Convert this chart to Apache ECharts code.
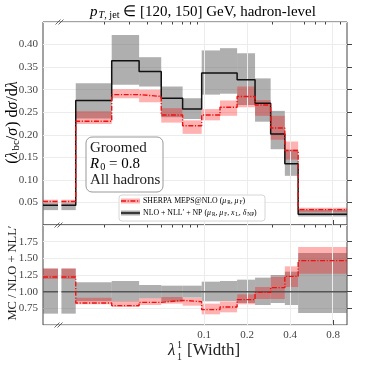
<!DOCTYPE html>
<html>
<head>
<meta charset="utf-8">
<script src="https://cdn.jsdelivr.net/npm/echarts@6/dist/echarts.min.js"></script>
<style>
    html, body { margin: 0; padding: 0; background: #fff; }
    #chart { width: 366px; height: 366px; }
</style>
</head>
<body>
<div id="chart"></div>
<script>
// bin edges in lambda_1^1 (first bin starts at 0, drawn on a broken axis)
var binEdges = [0, 0.0126, 0.0225, 0.035, 0.050, 0.0706, 0.096, 0.129, 0.170, 0.227, 0.292, 0.367, 0.455, 1.0];

// top panel: NLO + NLL' + NP
var nllCentral = [0.044, 0.276, 0.364, 0.340, 0.281, 0.257, 0.337, 0.337, 0.322, 0.270, 0.202, 0.136, 0.024];
var nllLow     = [0.033, 0.236, 0.311, 0.307, 0.239, 0.235, 0.289, 0.291, 0.266, 0.229, 0.168, 0.109, 0.019];
var nllHigh    = [0.049, 0.314, 0.421, 0.372, 0.307, 0.281, 0.387, 0.392, 0.381, 0.325, 0.253, 0.167, 0.034];
// top panel: SHERPA MEPS@NLO
var mcCentral  = [0.052, 0.230, 0.289, 0.285, 0.244, 0.220, 0.244, 0.261, 0.285, 0.266, 0.215, 0.165, 0.034];
var mcLow      = [0.049, 0.224, 0.281, 0.272, 0.227, 0.202, 0.232, 0.242, 0.261, 0.242, 0.189, 0.145, 0.028];
var mcHigh     = [0.056, 0.252, 0.301, 0.300, 0.259, 0.232, 0.257, 0.276, 0.307, 0.277, 0.242, 0.185, 0.038];

// ratio panel
var ratioNll     = [1, 1, 1, 1, 1, 1, 1, 1, 1, 1, 1, 1, 1];
var ratioNllLow  = [0.67, 0.855, 0.855, 0.90, 0.85, 0.91, 0.855, 0.86, 0.83, 0.80, 0.83, 0.80, 0.68];
var ratioNllHigh = [1.345, 1.14, 1.16, 1.10, 1.09, 1.09, 1.15, 1.16, 1.18, 1.21, 1.25, 1.30, 1.58];
var ratioMc      = [1.22, 0.83, 0.79, 0.84, 0.87, 0.85, 0.73, 0.77, 0.88, 0.99, 1.06, 1.23, 1.465];
var ratioMcLow   = [1.19, 0.81, 0.77, 0.80, 0.82, 0.79, 0.66, 0.69, 0.81, 0.89, 0.89, 1.07, 1.27];
var ratioMcHigh  = [1.35, 0.91, 0.86, 0.90, 0.92, 0.905, 0.82, 0.855, 0.96, 1.07, 1.22, 1.38, 1.67];

// x ticks
var majorTicks = [0.1, 0.2, 0.4, 0.8];
var majorLabels = ['0.1', '0.2', '0.4', '0.8'];
var minorTicks = [0.02, 0.03, 0.04, 0.05, 0.06, 0.07, 0.08, 0.09, 0.3, 0.5, 0.6, 0.7, 0.9];

// axis runs in log10(lambda); the [0, 0.01] piece is squeezed in on the left
var X_MIN = -2.129, LIN_W = 0.105, LOG_START = 0.01;

var SERIF = 'Liberation Serif';
var GRAY_BAND = 'rgba(110,110,110,0.55)';
var RED_BAND = 'rgba(255,0,0,0.3)';
var RED = '#ee1111';
var DASHDOT = [5, 1.6, 1.2, 1.6];

function lg(v) { return Math.log10(v); }

// x pieces of bin i in axis units
function binPieces(i) {
    if (i === 0) {
        return [[X_MIN, X_MIN + LIN_W], [lg(LOG_START), lg(binEdges[1])]];
    }
    return [[lg(binEdges[i]), lg(binEdges[i + 1])]];
}

function bandRows(lo, hi) {
    var rows = [];
    for (var i = 0; i < lo.length; i++) {
        binPieces(i).forEach(function (p) { rows.push([p[0], p[1], lo[i], hi[i]]); });
    }
    return rows;
}

// step line: [linear piece, log piece]
function stepLines(vals) {
    var lin = [[X_MIN, vals[0]], [X_MIN + LIN_W, vals[0]]];
    var log = [[lg(LOG_START), vals[0]]];
    for (var i = 0; i < vals.length; i++) {
        var x1 = lg(binEdges[i + 1]);
        log.push([x1, vals[i]]);
        if (i + 1 < vals.length) log.push([x1, vals[i + 1]]);
    }
    return [lin, log];
}

function bandSeries(lo, hi, color, gi, z) {
    return {
        type: 'custom',
        xAxisIndex: gi * 2, yAxisIndex: gi,
        z: z, silent: true, animation: false,
        data: bandRows(lo, hi),
        encode: { x: [0, 1], y: [2, 3] },
        renderItem: function (params, api) {
            var a = api.coord([api.value(0), api.value(3)]);
            var b = api.coord([api.value(1), api.value(2)]);
            return {
                type: 'rect',
                shape: { x: a[0], y: a[1], width: b[0] - a[0], height: b[1] - a[1] },
                style: { fill: color }
            };
        }
    };
}

function lineSeries(vals, color, width, dash, gi, z) {
    return stepLines(vals).map(function (pts) {
        return {
            type: 'line',
            xAxisIndex: gi * 2, yAxisIndex: gi,
            data: pts, symbol: 'none', z: z, silent: true, animation: false,
            lineStyle: { color: color, width: width, type: dash || 'solid' }
        };
    });
}

function gridLineSeries(gi) {
    return {
        type: 'line', xAxisIndex: gi * 2, yAxisIndex: gi, data: [], z: 1, silent: true,
        markLine: {
            silent: true, symbol: 'none', animation: false,
            label: { show: false },
            lineStyle: { color: '#ececec', width: 1, type: 'solid' },
            data: majorTicks.map(function (v) { return { xAxis: lg(v) }; })
        }
    };
}

function xAxes(gi, withLabels) {
    var base = {
        type: 'value', gridIndex: gi, min: X_MIN, max: 0,
        axisLine: { show: false }, splitLine: { show: false }
    };
    var major = Object.assign({}, base, {
        axisTick: { show: true, inside: true, length: 5, lineStyle: { color: '#444' },
            customValues: majorTicks.map(lg) },
        axisLabel: withLabels ? {
            show: true, customValues: majorTicks.map(lg), margin: 5,
            fontFamily: SERIF, fontSize: 11, color: '#444',
            formatter: function (v) {
                for (var i = 0; i < majorTicks.length; i++) {
                    if (Math.abs(lg(majorTicks[i]) - v) < 1e-6) return majorLabels[i];
                }
                return '';
            }
        } : { show: false }
    });
    var minor = Object.assign({}, base, {
        axisTick: { show: true, inside: true, length: 2.5, lineStyle: { color: '#444' },
            customValues: minorTicks.map(lg) },
        axisLabel: { show: false }
    });
    return [major, minor];
}

function yAxis(gi, min, max, interval) {
    return {
        type: 'value', gridIndex: gi, min: min, max: max, interval: interval,
        axisLine: { show: false },
        axisTick: { show: true, inside: true, length: 5, lineStyle: { color: '#444' } },
        axisLabel: {
            show: true, showMinLabel: false, showMaxLabel: false, margin: 5,
            fontFamily: SERIF, fontSize: 11, color: '#444',
            formatter: function (v) { return v.toFixed(2); }
        },
        splitLine: { show: true, lineStyle: { color: '#ececec', width: 1 } }
    };
}

var mathRich = function (size) {
    return {
        i: { fontFamily: SERIF, fontStyle: 'italic', fontSize: size, color: '#222', padding: [0, 1, 0, 0] },
        r: { fontFamily: SERIF, fontSize: size, color: '#222' },
        si: { fontFamily: SERIF, fontStyle: 'italic', fontSize: size * 0.68, color: '#222', padding: [size * 0.45, 0, 0, 0] },
        sr: { fontFamily: SERIF, fontSize: size * 0.68, color: '#222', padding: [size * 0.45, 0, 0, 0] }
    };
};

function slashes(cx, cy) {
    var st = { stroke: '#444', lineWidth: 0.8 };
    return [
        { type: 'line', z: 100, shape: { x1: cx - 4.5, y1: cy + 2.5, x2: cx + 0.5, y2: cy - 2.5 }, style: st },
        { type: 'line', z: 100, shape: { x1: cx - 1.5, y1: cy + 2.5, x2: cx + 3.5, y2: cy - 2.5 }, style: st }
    ];
}

var chart = echarts.init(document.getElementById('chart'), null, { renderer: 'canvas' });

var series = [
    gridLineSeries(0), gridLineSeries(1),
    bandSeries(nllLow, nllHigh, GRAY_BAND, 0, 2),
    bandSeries(mcLow, mcHigh, RED_BAND, 0, 3),
    bandSeries(ratioNllLow, ratioNllHigh, GRAY_BAND, 1, 2),
    bandSeries(ratioMcLow, ratioMcHigh, RED_BAND, 1, 3)
].concat(
    lineSeries(nllCentral, '#111', 1.5, null, 0, 5),
    lineSeries(mcCentral, RED, 1.4, DASHDOT, 0, 6),
    lineSeries(ratioNll, '#555', 1.5, null, 1, 5),
    lineSeries(ratioMc, RED, 1.4, DASHDOT, 1, 6)
);

var graphics = [
    // title
    { type: 'text', x: 203, y: 12, z: 100, style: {
        text: '{i|p}{si|T}{sr|, jet}{r| ∈ [120, 150] GeV, hadron-level}',
        rich: mathRich(15), align: 'center', verticalAlign: 'middle' } },
    // y names
    { type: 'text', x: 13, y: 122, rotation: Math.PI / 2, z: 100, style: {
        text: '{r|(}{i|λ}{sr|bc}{r|/}{i|σ}{r|) d}{i|σ}{r|/d}{i|λ}',
        rich: mathRich(16), align: 'center', verticalAlign: 'middle' } },
    { type: 'text', x: 13, y: 273, rotation: Math.PI / 2, z: 100, style: {
        text: 'MC / NLO + NLL′', fontFamily: SERIF, fontSize: 12.5, fill: '#222',
        align: 'center', verticalAlign: 'middle' } },
    // x name
    { type: 'text', x: 168, y: 351, z: 100, style: {
        text: 'λ', fontFamily: SERIF, fontStyle: 'italic', fontSize: 17, fill: '#222',
        align: 'left', verticalAlign: 'middle' } },
    { type: 'text', x: 177, y: 345, z: 100, style: {
        text: '1', fontFamily: SERIF, fontSize: 10, fill: '#222', align: 'left', verticalAlign: 'middle' } },
    { type: 'text', x: 177, y: 357, z: 100, style: {
        text: '1', fontFamily: SERIF, fontSize: 10, fill: '#222', align: 'left', verticalAlign: 'middle' } },
    { type: 'text', x: 187, y: 351, z: 100, style: {
        text: '[Width]', fontFamily: SERIF, fontSize: 17, fill: '#222', align: 'left', verticalAlign: 'middle' } },
    // annotation box
    { type: 'rect', z: 90, shape: { x: 86, y: 137, width: 77, height: 55, r: 6 },
        style: { fill: 'rgba(255,255,255,0.85)', stroke: '#999', lineWidth: 1 } },
    { type: 'text', x: 90, y: 148, z: 100, style: { text: 'Groomed', fontFamily: SERIF, fontSize: 15, fill: '#222',
        align: 'left', verticalAlign: 'middle' } },
    { type: 'text', x: 90, y: 164, z: 100, style: { text: '{i|R}{sr|0}{r| = 0.8}', rich: mathRich(15),
        align: 'left', verticalAlign: 'middle' } },
    { type: 'text', x: 90, y: 180, z: 100, style: { text: 'All hadrons', fontFamily: SERIF, fontSize: 15, fill: '#222',
        align: 'left', verticalAlign: 'middle' } },
    // legend
    { type: 'rect', z: 90, shape: { x: 119, y: 195, width: 146, height: 26, r: 3 },
        style: { fill: 'rgba(255,255,255,0.85)', stroke: '#d6d6d6', lineWidth: 1 } },
    { type: 'rect', z: 95, shape: { x: 121, y: 198.5, width: 19, height: 5 }, style: { fill: RED_BAND } },
    { type: 'line', z: 96, shape: { x1: 121, y1: 201, x2: 140, y2: 201 },
        style: { stroke: RED, lineWidth: 1.4, lineDash: DASHDOT } },
    { type: 'rect', z: 95, shape: { x: 121, y: 210.5, width: 19, height: 5 }, style: { fill: GRAY_BAND } },
    { type: 'line', z: 96, shape: { x1: 121, y1: 213, x2: 140, y2: 213 },
        style: { stroke: '#111', lineWidth: 1.5 } },
    { type: 'text', x: 143, y: 201, z: 100, style: {
        text: '{r|SHERPA MEPS@NLO (}{i|μ}{sr|R}{r|, }{i|μ}{sr|F}{r|)}',
        rich: mathRich(7.8), align: 'left', verticalAlign: 'middle' } },
    { type: 'text', x: 143, y: 213, z: 100, style: {
        text: '{r|NLO + NLL′ + NP (}{i|μ}{sr|R}{r|, }{i|μ}{sr|F}{r|, }{i|x}{sr|L}{r|, }{i|δ}{sr|NP}{r|)}',
        rich: mathRich(7.8), align: 'left', verticalAlign: 'middle' } }
].concat(slashes(60, 22), slashes(59, 225), slashes(59, 325));

var option = {
    animation: false,
    backgroundColor: '#fff',
    grid: [
        { left: 43, top: 22, width: 304, height: 203, show: true, borderColor: '#444', borderWidth: 1, backgroundColor: 'transparent' },
        { left: 43, top: 225, width: 304, height: 100, show: true, borderColor: '#444', borderWidth: 1, backgroundColor: 'transparent' }
    ],
    xAxis: xAxes(0, false).concat(xAxes(1, true)),
    yAxis: [yAxis(0, 0, 0.45, 0.05), yAxis(1, 0.5, 2.0, 0.25)],
    series: series,
    graphic: graphics
};

chart.setOption(option);
</script>
</body>
</html>
